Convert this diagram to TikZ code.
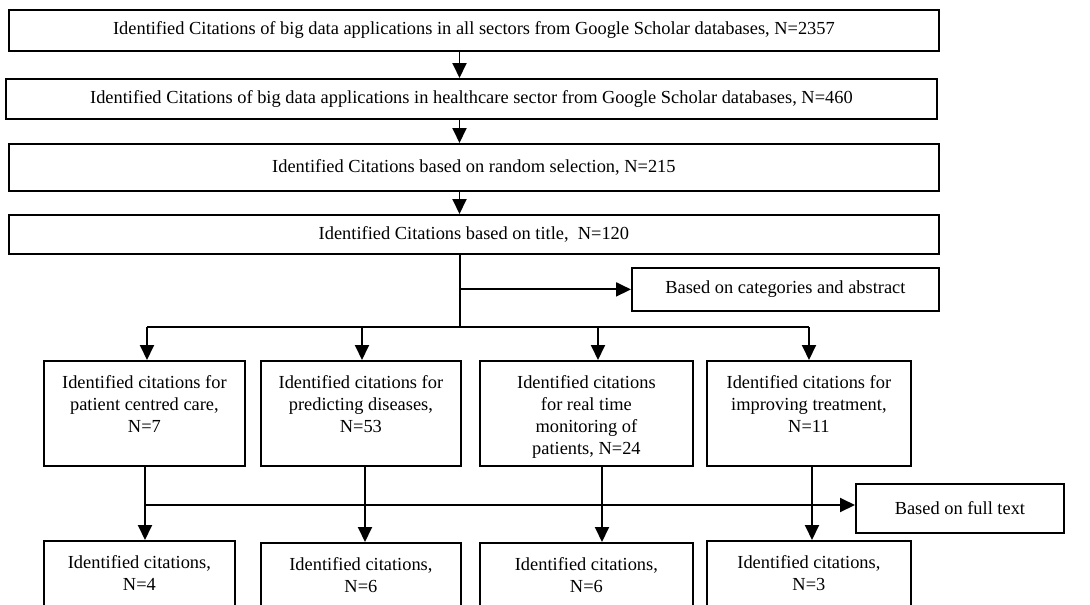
\documentclass[tikz,border=0pt]{standalone}
\usepackage{fontspec}
\setmainfont{Liberation Serif}
\usetikzlibrary{arrows.meta}
\newcommand{\tb}[3]{\parbox[t][#2][t]{#1}{\centering #3}}
\begin{document}
\begin{tikzpicture}[x=1pt,y=-1pt,
  font=\fontsize{18.4}{21.8}\selectfont,
  box/.style={draw, line width=1.8pt, anchor=north west, inner sep=0pt, align=center},
  tbox/.style={draw, line width=1.8pt, anchor=north west, inner xsep=0pt, inner ysep=15pt},
  ln/.style={line width=1.9pt},
  arr/.style={line width=1.9pt, -{Triangle[length=15pt,width=14pt]}}]
\useasboundingbox (0,0) rectangle (1090,605);
\clip (0,0) rectangle (1090,605);

\node[box, minimum width=930pt, minimum height=41pt] (b1) at (8,9) {Identified Citations of big data applications in all sectors from Google Scholar databases, N=2357};
\node[box, minimum width=931pt, minimum height=40pt] (b2) at (5,78) {Identified Citations of big data applications in healthcare sector from Google Scholar databases, N=460};
\node[box, minimum width=930pt, minimum height=47pt] (b3) at (8,143) {Identified Citations based on random selection, N=215};
\node[box, minimum width=930pt, minimum height=39pt] (b4) at (8,214) {Identified Citations based on title, \ N=120};
\node[box, minimum width=307pt, minimum height=43pt] (cat) at (631,267) {Based on categories and abstract};
\node[box, minimum width=208pt, minimum height=49pt] (full) at (855,483) {Based on full text};

\node[tbox] (mA) at (43,360) {\tb{201pt}{75pt}{Identified citations for\\ patient centred care,\\ N=7}};
\node[tbox] (mB) at (260,360) {\tb{200pt}{75pt}{Identified citations for\\ predicting diseases,\\ N=53}};
\node[tbox] (mC) at (479,360) {\tb{213pt}{75pt}{Identified citations\\ for real time\\ monitoring of\\ patients, N=24}};
\node[tbox] (mD) at (706,360) {\tb{204pt}{75pt}{Identified citations for\\ improving treatment,\\ N=11}};

\node[tbox] (lA) at (43,540) {\tb{191pt}{75pt}{Identified citations,\\ N=4}};
\node[tbox] (lB) at (260,542) {\tb{200pt}{75pt}{Identified citations,\\ N=6}};
\node[tbox] (lC) at (479,542) {\tb{213pt}{75pt}{Identified citations,\\ N=6}};
\node[tbox] (lD) at (706,540) {\tb{204pt}{75pt}{Identified citations,\\ N=3}};

\coordinate (x1) at (459.5,0);
\draw[arr] (x1 |- b1.south) -- (x1 |- b2.north);
\draw[arr] (x1 |- b2.south) -- (x1 |- b3.north);
\draw[arr] (x1 |- b3.south) -- (x1 |- b4.north);

\coordinate (tr) at (460,327);
\draw[ln] (tr |- b4.south) -- (tr);
\draw[arr] (tr |- cat.west) -- (cat.west);
\coordinate (dA) at (147,327);
\coordinate (dB) at (362,327);
\coordinate (dC) at (598,327);
\coordinate (dD) at (809,327);
\draw[ln] (dA) -- (dD);
\draw[arr] (dA) -- (dA |- mA.north);
\draw[arr] (dB) -- (dB |- mB.north);
\draw[arr] (dC) -- (dC |- mC.north);
\draw[arr] (dD) -- (dD |- mD.north);

\coordinate (cA) at (145,505);
\coordinate (cB) at (365,505);
\coordinate (cC) at (602,505);
\coordinate (cD) at (812,505);
\draw[arr] (cA |- mA.south) -- (cA |- lA.north);
\draw[arr] (cB |- mB.south) -- (cB |- lB.north);
\draw[arr] (cC |- mC.south) -- (cC |- lC.north);
\draw[arr] (cD |- mD.south) -- (cD |- lD.north);
\draw[arr] (cA) -- (full.west |- cA);
\end{tikzpicture}
\end{document}
